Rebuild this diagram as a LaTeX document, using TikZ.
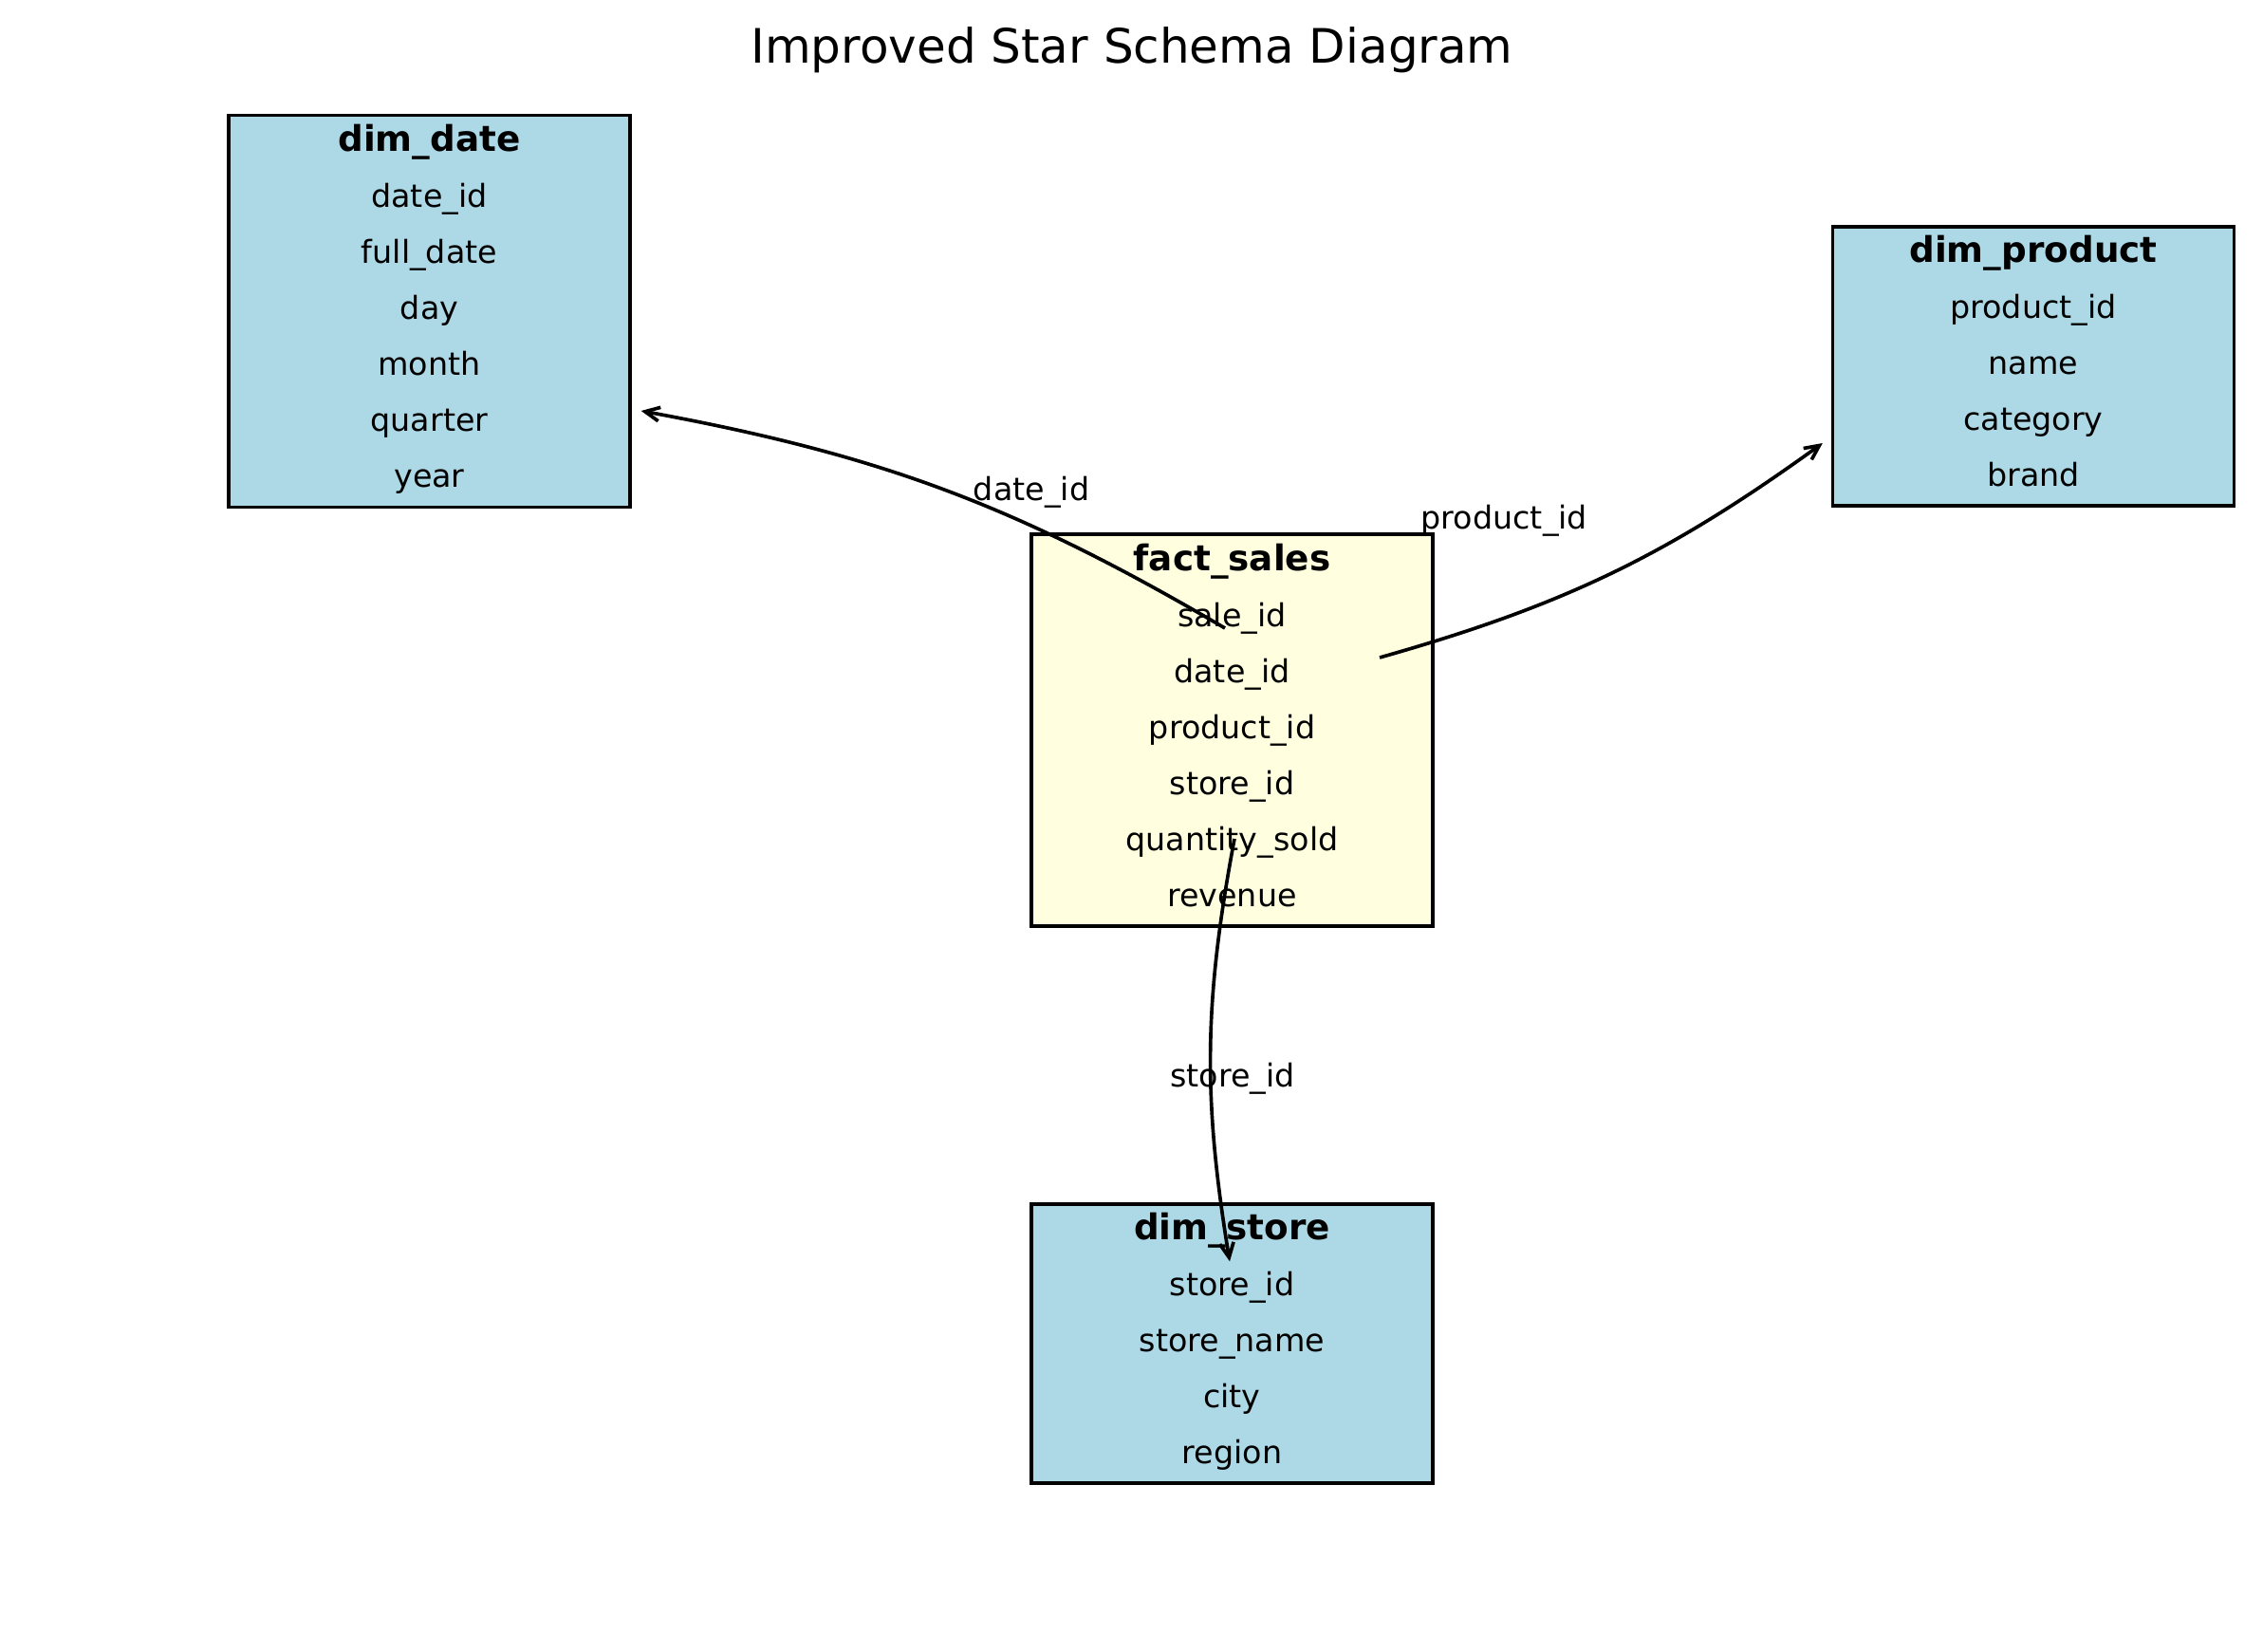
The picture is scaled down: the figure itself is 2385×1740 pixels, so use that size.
\documentclass[tikz,border=0pt]{standalone}
\usepackage{fontspec}
\setmainfont{DejaVu Sans}
\usepackage{tikz}
\usetikzlibrary{shapes,arrows.meta,positioning,calc}
\usepackage{xcolor}
\definecolor{dimblue}{HTML}{ADD8E6}
\definecolor{factyellow}{HTML}{FFFFE0}
\newcommand{\tblhead}[1]{\rule{0pt}{11.3pt}{\fontsize{11.2}{17.7}\selectfont\bfseries #1}}
\newcommand{\tblend}{\rule[-6.1pt]{0pt}{0pt}}

\begin{document}
\begin{tikzpicture}[x=0.3pt, y=0.3pt]
    \tikzstyle{table} = [rectangle, draw, line width=1pt, minimum width=126.9pt, inner sep=0pt, align=center, font=\fontsize{10}{17.7}\selectfont]
    \tikzstyle{dimtable} = [table, fill=dimblue, minimum height=88.2pt]
    \tikzstyle{facttable} = [table, fill=factyellow, minimum height=123.9pt]
    \tikzstyle{link} = [-{Straight Barb[length=4.6pt, width=4.4pt]}, line width=1.1pt]
    \tikzstyle{linklabel} = [font=\fontsize{10}{12}\selectfont, inner sep=0pt]

    \useasboundingbox (0,0) rectangle (2385,1740);

    % Заголовок
    \node[font=\fontsize{15}{18}\selectfont] (title) at (1193,1687) {Improved Star Schema Diagram};

    % Таблиці
    \node[facttable] (fsales) at (1298.5,970.5) {\tblhead{fact\_sales}\\sale\_id\\date\_id\\product\_id\\store\_id\\quantity\_sold\\revenue\tblend};
    \node[dimtable, minimum height=123.9pt] (ddate) at (452.5,1412) {\tblhead{dim\_date}\\date\_id\\full\_date\\day\\month\\quarter\\year\tblend};
    \node[dimtable] (dprod) at (2143,1354) {\tblhead{dim\_product}\\product\_id\\name\\category\\brand\tblend};
    \node[dimtable] (dstore) at (1298.5,324) {\tblhead{dim\_store}\\store\_id\\store\_name\\city\\region\tblend};

    % Зв'язки
    \draw[link] ([shift={(-7.5,107.5)}]fsales.center) to[bend right=10] node[linklabel, pos=0.33, xshift=-1.2pt, yshift=11.1pt] {date\_id} ([shift={(10,-105)}]ddate.east);
    \draw[link] ([shift={(155.5,76.5)}]fsales.center) to[bend right=10] node[linklabel, pos=0.29, xshift=-5.9pt, yshift=28.7pt] {product\_id} ([shift={(-9,-81)}]dprod.west);
    \draw[link] ([shift={(2.5,-114.5)}]fsales.center) to[bend right=10] node[linklabel, pos=0.56, xshift=7pt, yshift=-1.8pt] {store\_id} ([shift={(-2.5,-62)}]dstore.north);
\end{tikzpicture}
\end{document}
